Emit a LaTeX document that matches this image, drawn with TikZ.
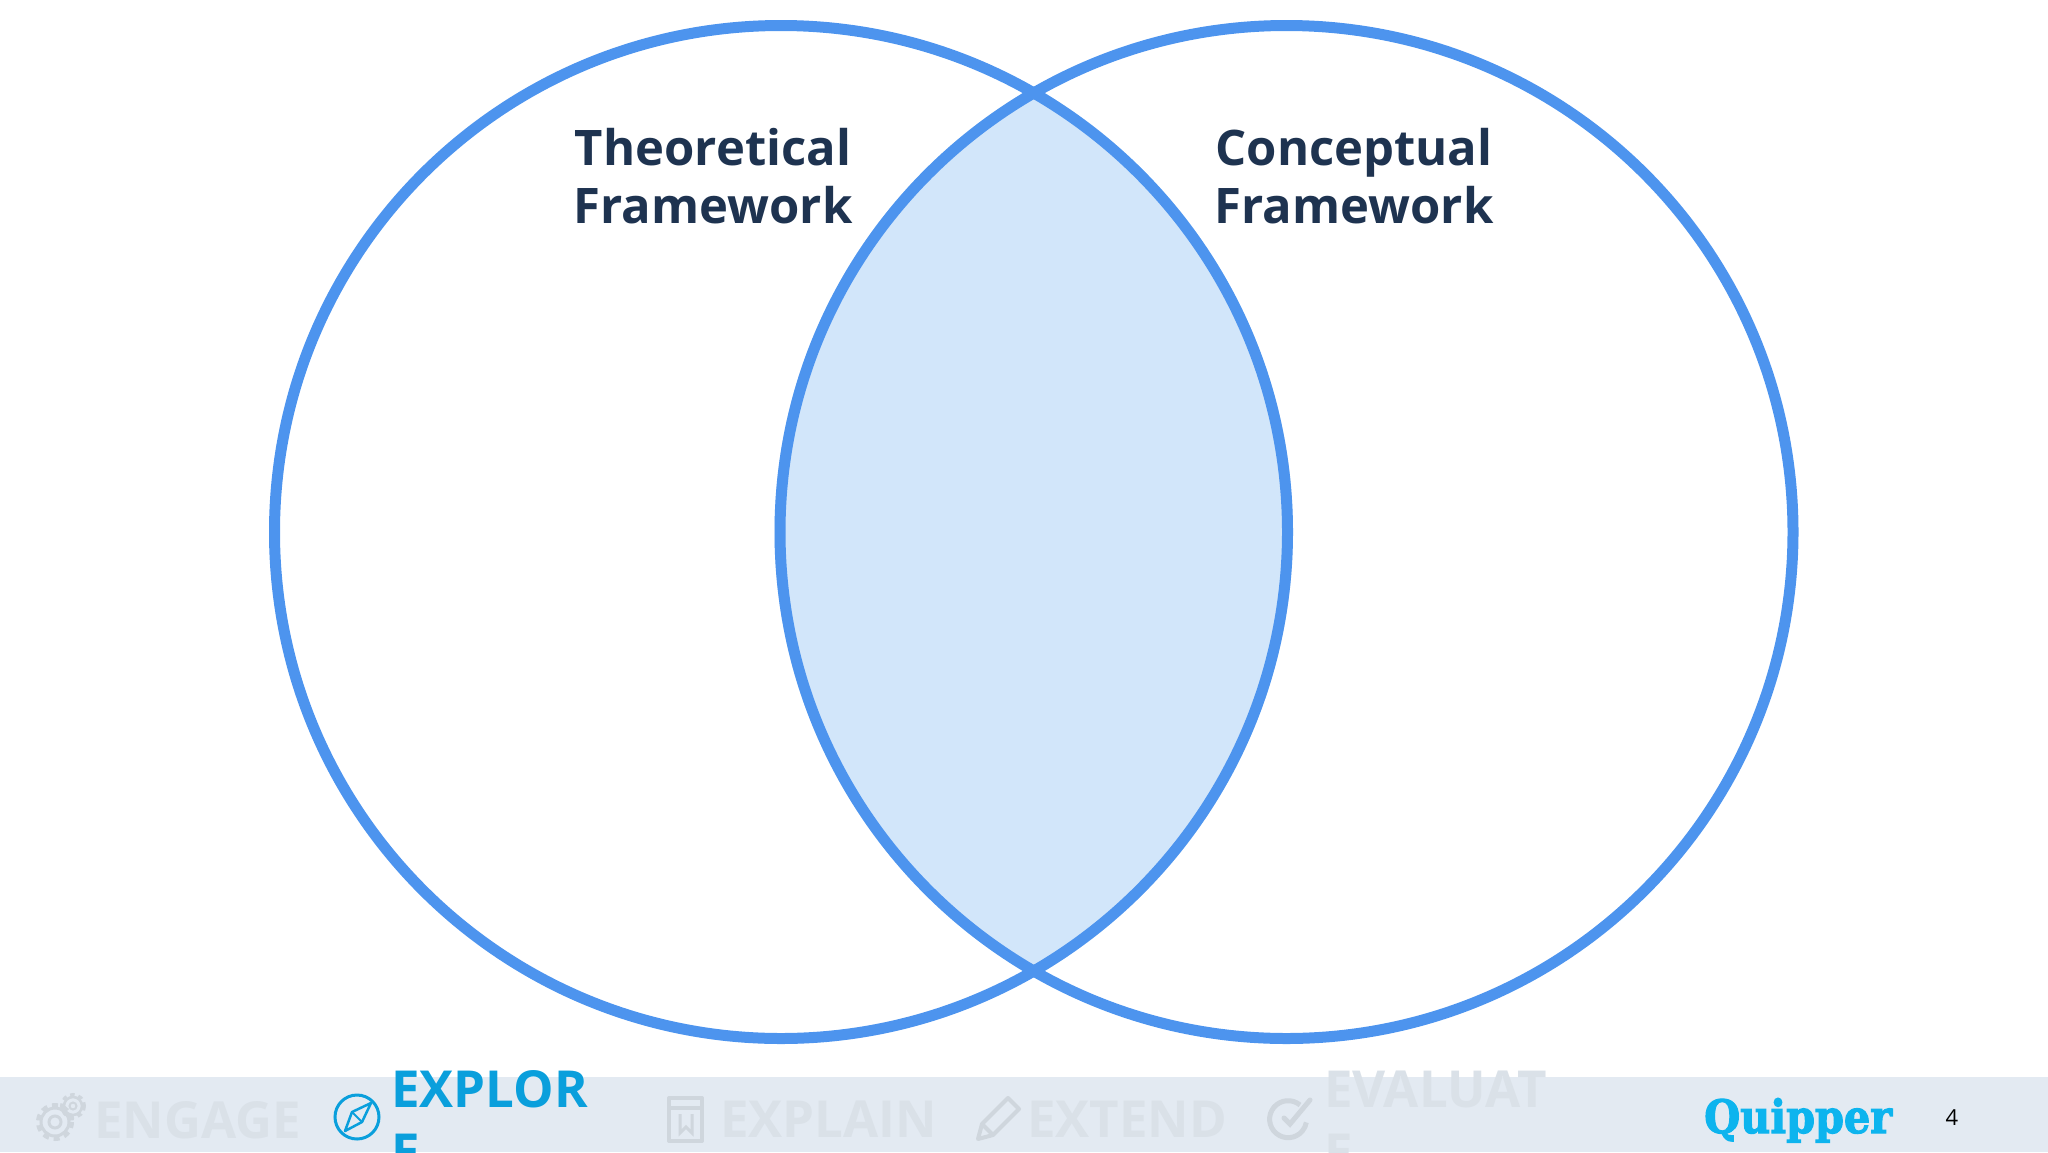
\documentclass[tikz,border=0pt]{standalone}
\usepackage{fontspec}
\setmainfont{Open Sans}
\newfontfamily\logofont[BoldFeatures={FakeBold=2.5}]{DejaVu Serif}
\definecolor{ringblue}{HTML}{4D94EE}
\definecolor{lensblue}{HTML}{D2E6FA}
\definecolor{inkblue}{HTML}{1E3350}
\definecolor{barblue}{HTML}{E3EAF2}
\definecolor{fadegray}{HTML}{DAE1E8}
\definecolor{iconfade}{HTML}{CFD6DD}
\definecolor{tabblue}{HTML}{0A9FDC}
\definecolor{logoblue}{HTML}{0DB4EE}
\tikzset{
	ring/.style={draw=ringblue, line width=11pt},
	heading/.style={text=inkblue, align=center, font=\fontsize{49}{58}\selectfont\bfseries, inner sep=0pt},
	tabtext/.style={anchor=base west, align=left, inner sep=0pt, font=\fontsize{51}{63}\selectfont\bfseries},
	tabfade/.style={tabtext, text=fadegray},
	faded/.style={draw=iconfade, line width=4pt}
}
\begin{document}
\begin{tikzpicture}[x=1pt, y=-1pt]
	\useasboundingbox (0, 0) rectangle (2048, 1152);
	\clip (0, 0) rectangle (2048, 1152);

	\fill[barblue] (0, 1077) rectangle (2048, 1152);

	\begin{scope}
		\clip (781, 532) circle (512);
		\fill[lensblue] (1286.5, 532) circle (512);
	\end{scope}
	\draw[ring] (781, 532) circle (506.5);
	\draw[ring] (1286.5, 532) circle (506.5);

	\node[heading] (theoretical) at (713, 176) {Theoretical\\Framework};
	\node[heading] (conceptual) at (1354, 176) {Conceptual\\Framework};

	% bottom bar
	\node[tabfade] (engage) at (94, 1138) {ENGAGE};
	\node[tabtext, text=tabblue] (explore) at (391, 1170) {EXPLOR\\E};
	\node[tabfade] (explain) at (720, 1137) {EXPLAIN};
	\node[tabfade] (extend) at (1027, 1137) {EXTEND};
	\node[tabfade] (evaluate) at (1324, 1170) {EVALUAT\\E};

	% gears
	\draw[iconfade, line width=3pt] (55, 1122) circle (14);
	\draw[iconfade, line width=4pt, dash pattern=on 6pt off 5pt] (55, 1122) circle (17);
	\draw[iconfade, line width=3pt] (55, 1122) circle (6);
	\draw[iconfade, line width=2.5pt] (73, 1106) circle (9);
	\draw[iconfade, line width=3pt, dash pattern=on 4.5pt off 4pt] (73, 1106) circle (11.5);
	\draw[iconfade, line width=2pt] (73, 1106) circle (3.5);

	% compass
	\draw[tabblue, line width=3pt] (357, 1117) circle (22);
	\draw[tabblue, line width=2.5pt, line join=round] (345, 1131) -- (352, 1112) -- (371, 1103) -- (362, 1122) -- cycle;
	\draw[tabblue, line width=2pt] (352, 1112) -- (362, 1122);

	% book
	\draw[faded, line cap=round, line join=round] (702, 1141) -- (669, 1141) -- (669, 1098) -- (702, 1098) -- cycle;
	\draw[faded] (669, 1108) -- (702, 1108);
	\draw[faded, line width=3pt] (680, 1114) -- (680, 1133) -- (686, 1127) -- (692, 1133) -- (692, 1114);

	% pencil
	\draw[faded, line join=round] (978, 1139) -- (982, 1124) -- (1008, 1098) -- (1019, 1109) -- (993, 1135) -- cycle;
	\draw[faded] (982, 1124) -- (993, 1135);

	% check
	\draw[faded, line width=5pt] (1300, 1105) arc (-50:-350:18.5);
	\draw[faded, line width=5pt, line cap=round] (1284, 1118) -- (1290, 1124) -- (1310, 1100);

	\node[anchor=base west, inner sep=0pt, text=logoblue, font=\fontsize{46}{46}\selectfont\logofont\bfseries, xscale=0.9] (quipper) at (1704, 1133) {Quipper};
	\node[inner sep=0pt, font=\fontsize{22}{22}\selectfont] (pagenum) at (1952, 1118) {4};
\end{tikzpicture}
\end{document}
